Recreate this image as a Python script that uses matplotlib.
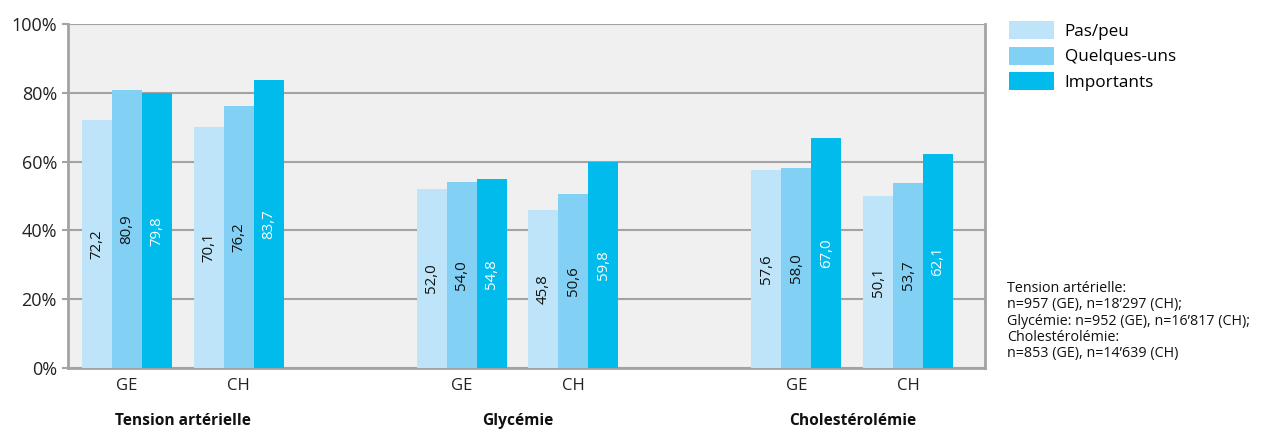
import numpy as np
import matplotlib.pyplot as plt
from matplotlib.patches import Patch

plt.rcParams['font.family'] = ['Open Sans', 'DejaVu Sans']

categories = ['Tension artérielle', 'Glycémie', 'Cholestérolémie']
regions = ['GE', 'CH']
series = ['Pas/peu', 'Quelques-uns', 'Importants']
# values per series, ordered TA-GE, TA-CH, Gly-GE, Gly-CH, Chol-GE, Chol-CH
pas_peu = [72.2, 70.1, 52.0, 45.8, 57.6, 50.1]
quelques = [80.9, 76.2, 54.0, 50.6, 58.0, 53.7]
importants = [79.8, 83.7, 54.8, 59.8, 67.0, 62.1]
note = ("Tension artérielle:\nn=957 (GE), n=18\u2019297 (CH);\n"
        "Glycémie: n=952 (GE), n=16\u2019817 (CH);\nCholestérolémie:\n"
        "n=853 (GE), n=14\u2019639 (CH)")

colors = ['#BDE4F8', '#83D0F5', '#00BBEC']
text_colors = ['#111111', '#111111', 'white']
grey = '#A3A3A3'

W, H = 1280, 432
fig = plt.figure(figsize=(W / 100, H / 100), dpi=100)
ax = fig.add_axes([68 / W, (H - 368) / H, (985 - 68) / W, (368 - 24) / H])
ax.set_facecolor('#F0F0F0')

pos = np.array([0, 1, 3, 4, 6, 7], dtype=float)
w = 0.269
for j, vals in enumerate([pas_peu, quelques, importants]):
    xs = pos + (j - 1) * w
    ax.bar(xs, vals, width=w, color=colors[j], zorder=3, linewidth=0)
    for x, v in zip(xs, vals):
        ax.text(x, v / 2, f'{v:.1f}'.replace('.', ','), rotation=90,
                ha='center', va='center', fontsize=10.8, color=text_colors[j], zorder=4)

ax.set_ylim(0, 100)
ax.set_xlim(-0.529, 7.69)
ax.set_yticks(np.arange(0, 101, 20))
ax.set_yticklabels([f'{t}%' for t in range(0, 101, 20)], fontsize=13, color='#222222')
ax.yaxis.grid(True, color=grey, linewidth=1.5, zorder=1)
ax.tick_params(axis='y', length=4, width=1.5, color=grey, pad=4)
ax.set_xticks(pos)
ax.set_xticklabels(regions * 3, fontsize=12, color='#222222')
ax.tick_params(axis='x', length=0, pad=7)
for s in ['left', 'bottom', 'right']:
    ax.spines[s].set_color(grey)
    ax.spines[s].set_linewidth(2)
ax.spines['top'].set_visible(False)

for i, cat in enumerate(categories):
    ax.annotate(cat, xy=((pos[2 * i] + pos[2 * i + 1]) / 2, 0),
                xycoords=('data', 'axes fraction'), xytext=(0, -38.5),
                textcoords='offset points', ha='center', va='center',
                fontsize=11.2, fontweight='bold', color='#111111')

handles = [Patch(facecolor=c, edgecolor='none') for c in colors]
fig.legend(handles, series, loc='upper left', bbox_to_anchor=(1009 / W, 1 - 21 / H),
           frameon=False, fontsize=12.3, handlelength=2.65, handleheight=1.25,
           labelspacing=0.4, handletextpad=0.6, borderaxespad=0, borderpad=0)

fig.text(1007 / W, 1 - 281 / H, note, fontsize=10.3, va='top', ha='left',
         linespacing=1.12, color='#111111')

fig.savefig('out.png', dpi=100)
